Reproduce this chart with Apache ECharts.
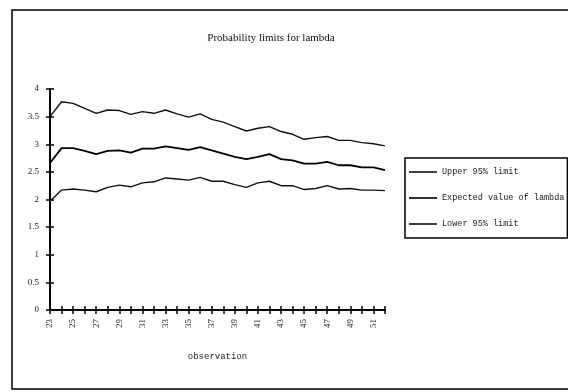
<!DOCTYPE html>
<html>
<head>
<meta charset="utf-8">
<script src="https://cdn.jsdelivr.net/npm/echarts@6/dist/echarts.min.js"></script>
<style>html,body{margin:0;padding:0;background:#fff}#c{width:568px;height:392px}</style>
</head>
<body>
<div id="c"></div>
<script>
const categories = ['23','24','25','26','27','28','29','30','31','32','33','34','35','36','37','38','39','40','41','42','43','44','45','46','47','48','49','50','51','52'];
const upper = [3.50,3.77,3.74,3.65,3.56,3.62,3.61,3.54,3.59,3.56,3.62,3.55,3.49,3.55,3.45,3.40,3.32,3.24,3.29,3.32,3.23,3.18,3.09,3.12,3.14,3.07,3.07,3.03,3.01,2.97];
const expected = [2.66,2.93,2.93,2.88,2.82,2.88,2.89,2.85,2.92,2.92,2.96,2.93,2.90,2.95,2.89,2.83,2.77,2.73,2.77,2.82,2.73,2.71,2.65,2.65,2.68,2.62,2.62,2.58,2.58,2.53];
const lower = [1.97,2.17,2.19,2.17,2.14,2.22,2.26,2.23,2.30,2.32,2.39,2.37,2.35,2.40,2.33,2.33,2.27,2.22,2.30,2.33,2.25,2.25,2.18,2.20,2.25,2.19,2.20,2.17,2.17,2.16];
const seriesNames = ['Upper 95% limit','Expected value of lambda','Lower 95% limit'];
const titleText = 'Probability limits for lambda';
const xName = 'observation';

const chart = echarts.init(document.getElementById('c'), null, {renderer:'canvas'});
const axisLine = {show:true, lineStyle:{color:'#000', width:2}};
const tickStyle = {color:'#000', width:1.5};
chart.setOption({
  animation:false,
  backgroundColor:'#fff',
  title:{text:titleText, left:266, top:28, textAlign:'center',
    textStyle:{fontFamily:'Liberation Serif', fontSize:11, fontWeight:'normal', color:'#111'}},
  legend:{
    orient:'vertical', left:405, top:158,
    data:seriesNames,
    icon:'rect',
    itemWidth:28, itemHeight:1.6, itemGap:14,
    padding:[8,3,8,4],
    borderColor:'#000', borderWidth:1.5,
    textStyle:{fontFamily:'Liberation Mono', fontSize:8.5, color:'#222', lineHeight:12}
  },
  grid:{left:50, right:183, top:89, bottom:82},
  xAxis:[{
    type:'category', data:categories, boundaryGap:false,
    name:xName, nameLocation:'middle', nameGap:42,
    nameTextStyle:{fontFamily:'Liberation Mono', fontSize:9, color:'#222'},
    axisLine:axisLine,
    axisTick:{show:true, interval:0, length:4, lineStyle:tickStyle},
    axisLabel:{interval:1, rotate:90, margin:9, fontFamily:'Liberation Serif', fontSize:9, color:'#222'},
    splitLine:{show:false}
  },{
    type:'category', data:categories, boundaryGap:false, position:'bottom',
    axisLine:{show:false},
    axisTick:{show:true, inside:true, interval:0, length:4, lineStyle:tickStyle},
    axisLabel:{show:false}, splitLine:{show:false}
  }],
  yAxis:[{
    type:'value', min:0, max:4, interval:0.5,
    axisLine:axisLine,
    axisTick:{show:true, length:4, lineStyle:tickStyle},
    axisLabel:{margin:11, fontFamily:'Liberation Serif', fontSize:9, color:'#222'},
    splitLine:{show:false}
  },{
    type:'value', min:0, max:4, interval:0.5, position:'left',
    axisLine:{show:false},
    axisTick:{show:true, inside:true, length:4, lineStyle:tickStyle},
    axisLabel:{show:false}, splitLine:{show:false}
  }],
  series:[
    {name:seriesNames[0], type:'line', data:upper, symbol:'none', lineStyle:{color:'#111', width:1.4}, itemStyle:{color:'#111'}},
    {name:seriesNames[1], type:'line', data:expected, symbol:'none', lineStyle:{color:'#000', width:1.8}, itemStyle:{color:'#000'}},
    {name:seriesNames[2], type:'line', data:lower, symbol:'none', lineStyle:{color:'#111', width:1.4}, itemStyle:{color:'#111'}}
  ],
  graphic:[{type:'rect', shape:{x:12, y:10, width:570, height:379}, style:{fill:null, stroke:'#000', lineWidth:1.5}, silent:true}]
});
</script>
</body>
</html>
